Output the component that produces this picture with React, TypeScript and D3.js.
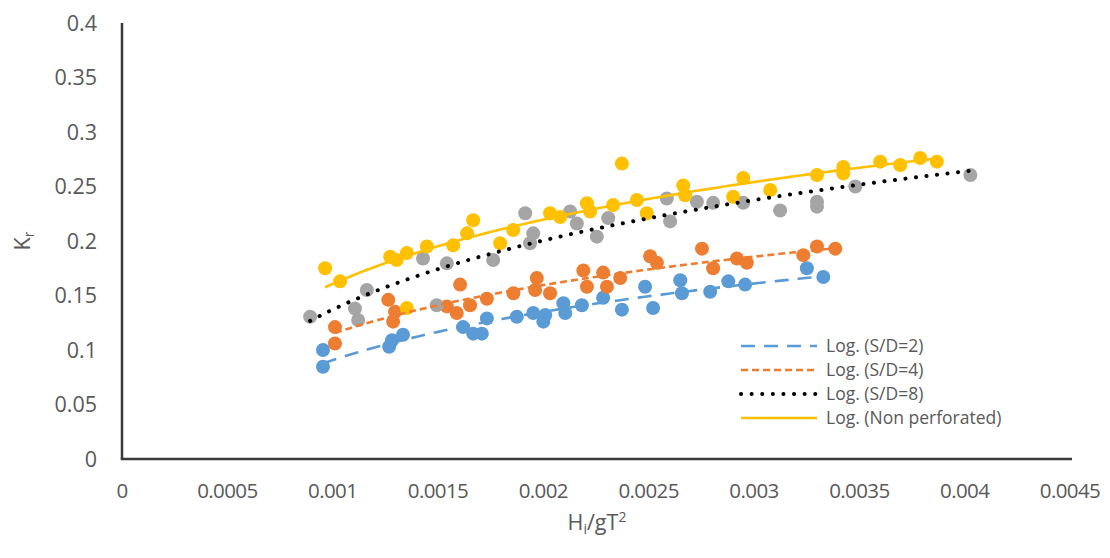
import React from "react";
import * as d3 from "d3";

// ---- data ----
const sd2X = [0.000954, 0.000954, 0.001268, 0.001282, 0.001334, 0.001619, 0.001667, 0.001708, 0.001732, 0.001874, 0.001952, 0.002, 0.002009, 0.002095, 0.002104, 0.002183, 0.002284, 0.002373, 0.002483, 0.002521, 0.00265, 0.002658, 0.002792, 0.002878, 0.002958, 0.003251, 0.003329];
const sd2Y = [0.0847, 0.1, 0.103, 0.109, 0.114, 0.121, 0.115, 0.115, 0.129, 0.1305, 0.134, 0.126, 0.132, 0.143, 0.134, 0.141, 0.148, 0.137, 0.158, 0.1385, 0.164, 0.152, 0.1535, 0.163, 0.16, 0.175, 0.167];

const sd4X = [0.001011, 0.001011, 0.001264, 0.001296, 0.001287, 0.001542, 0.001589, 0.001605, 0.001652, 0.001732, 0.001858, 0.001961, 0.001969, 0.002032, 0.00219, 0.002207, 0.002284, 0.002302, 0.002365, 0.002507, 0.002539, 0.002753, 0.002806, 0.002919, 0.002966, 0.003234, 0.003299, 0.003386];
const sd4Y = [0.106, 0.121, 0.146, 0.135, 0.126, 0.14, 0.134, 0.16, 0.141, 0.147, 0.152, 0.155, 0.166, 0.152, 0.173, 0.158, 0.171, 0.158, 0.166, 0.186, 0.18, 0.193, 0.175, 0.184, 0.18, 0.187, 0.195, 0.193];

const sd8X = [0.000893, 0.001106, 0.001121, 0.001162, 0.001429, 0.001494, 0.001542, 0.001762, 0.001914, 0.001937, 0.001952, 0.002159, 0.002127, 0.002254, 0.002308, 0.002586, 0.002602, 0.002729, 0.002806, 0.002949, 0.003124, 0.003299, 0.003299, 0.003481, 0.004027];
const sd8Y = [0.1305, 0.138, 0.1275, 0.155, 0.184, 0.141, 0.1795, 0.1826, 0.2254, 0.198, 0.207, 0.216, 0.227, 0.204, 0.221, 0.239, 0.218, 0.236, 0.235, 0.235, 0.228, 0.236, 0.2315, 0.25, 0.2606];

const nonX = [0.000964, 0.001035, 0.001273, 0.001304, 0.001352, 0.001352, 0.001447, 0.001572, 0.001638, 0.001667, 0.001795, 0.001857, 0.002032, 0.00208, 0.002207, 0.002222, 0.002331, 0.002373, 0.002444, 0.002491, 0.002664, 0.002673, 0.002901, 0.002949, 0.003077, 0.003299, 0.003424, 0.003424, 0.003599, 0.003694, 0.003789, 0.003868];
const nonY = [0.175, 0.163, 0.1856, 0.1826, 0.189, 0.1385, 0.195, 0.196, 0.207, 0.219, 0.198, 0.21, 0.2254, 0.222, 0.2346, 0.227, 0.233, 0.271, 0.2376, 0.2254, 0.251, 0.242, 0.2406, 0.2578, 0.2468, 0.2606, 0.268, 0.262, 0.2728, 0.2697, 0.2761, 0.2728];

const seriesNames = ["S/D=2", "S/D=4", "S/D=8", "Non perforated"];
const xTicks = [0, 0.0005, 0.001, 0.0015, 0.002, 0.0025, 0.003, 0.0035, 0.004, 0.0045];
const yTicks = [0, 0.05, 0.1, 0.15, 0.2, 0.25, 0.3, 0.35, 0.4];
const yTickLabels = ["0", "0.05", "0.1", "0.15", "0.2", "0.25", "0.3", "0.35", "0.4"];

// ---- styles ----
const colors = ["#5B9BD5", "#ED7D31", "#A5A5A5", "#FFC000"];
const trendColors = ["#5B9BD5", "#ED7D31", "#000000", "#FFC000"];
const trendDash = ["14 9", "7 4", "0.1 10.5", ""];
const trendWidth = [2.6, 2.6, 4, 2.6];
const trendCap = ["butt", "butt", "round", "butt"];

const W = 1110, H = 558;
const left = 122, right = 1070, top = 23, bottom = 459;
const font = "'Open Sans', sans-serif";
const textColor = "#595959";

function logFit(xs: number[], ys: number[]) {
  const lx = xs.map(Math.log);
  const mx = d3.mean(lx) as number;
  const my = d3.mean(ys) as number;
  let sxy = 0, sxx = 0;
  lx.forEach((v, i) => { sxy += (v - mx) * (ys[i] - my); sxx += (v - mx) * (v - mx); });
  const a = sxy / sxx;
  const b = my - a * mx;
  return { a, b };
}

export default function App() {
  const x = d3.scaleLinear().domain([0, 0.0045]).range([left, right]);
  const y = d3.scaleLinear().domain([0, 0.4]).range([bottom, top]);
  const allX = [sd2X, sd4X, sd8X, nonX];
  const allY = [sd2Y, sd4Y, sd8Y, nonY];
  const line = d3.line<[number, number]>().x(d => x(d[0])).y(d => y(d[1]));

  const trends = allX.map((xs, i) => {
    const { a, b } = logFit(xs, allY[i]);
    const [x0, x1] = d3.extent(xs) as [number, number];
    const pts: [number, number][] = d3.range(0, 101).map(k => {
      const xv = x0 + (x1 - x0) * k / 100;
      return [xv, a * Math.log(xv) + b];
    });
    return line(pts) as string;
  });

  const legendX1 = 741, legendX2 = 817, legendTextX = 826;
  const legendRows = [346, 370, 394, 418];

  return (
    <svg width={W} height={H} style={{ position: "absolute", left: 0, top: 0, background: "#fff" }} fontFamily={font}>
      {/* markers */}
      {allX.map((xs, i) => (
        <g key={"s" + i} fill={colors[i]}>
          {xs.map((xv, j) => (
            <circle key={j} cx={x(xv)} cy={y(allY[i][j])} r={7} />
          ))}
        </g>
      ))}
      {/* trendlines */}
      {trends.map((d, i) => (
        <path key={"t" + i} d={d} fill="none" stroke={trendColors[i]} strokeWidth={trendWidth[i]}
          strokeDasharray={trendDash[i] || undefined} strokeLinecap={trendCap[i] as any} />
      ))}
      {/* axes */}
      <line x1={left} x2={left} y1={top} y2={bottom} stroke="#3a3a3a" strokeWidth={2.5} />
      <line x1={left - 1.25} x2={right + 2} y1={bottom} y2={bottom} stroke="#3a3a3a" strokeWidth={2.5} />
      {yTicks.map((t, i) => (
        <text key={"yt" + i} x={97} y={y(t)} dy="0.36em" textAnchor="end" fontSize={21.5} fill={textColor}>{yTickLabels[i]}</text>
      ))}
      {xTicks.map((t, i) => (
        <text key={"xt" + i} x={x(t)} y={491} dy="0.36em" textAnchor="middle" fontSize={20.5} fill={textColor}
          style={{ letterSpacing: "-0.6px" }}>{String(t)}</text>
      ))}
      {/* axis titles */}
      <text x={597} y={530} textAnchor="middle" fontSize={21.5} fill={textColor}>
        H<tspan fontSize={14} dy={4}>i</tspan><tspan dy={-4}>/gT</tspan><tspan fontSize={14} dy={-8}>2</tspan>
      </text>
      <text transform={`translate(30, ${y(0.2)}) rotate(-90)`} textAnchor="middle" fontSize={21.5} fill={textColor}>
        K<tspan fontSize={14} dy={4}>r</tspan>
      </text>
      {/* legend */}
      {seriesNames.map((n, i) => (
        <g key={"lg" + i}>
          <line x1={legendX1} x2={legendX2} y1={legendRows[i]} y2={legendRows[i]} stroke={trendColors[i]}
            strokeWidth={trendWidth[i]} strokeDasharray={trendDash[i] || undefined} strokeLinecap={trendCap[i] as any} />
          <text x={legendTextX} y={legendRows[i]} dy="0.36em" fontSize={17.5} fill={textColor}>{`Log. (${n})`}</text>
        </g>
      ))}
    </svg>
  );
}
